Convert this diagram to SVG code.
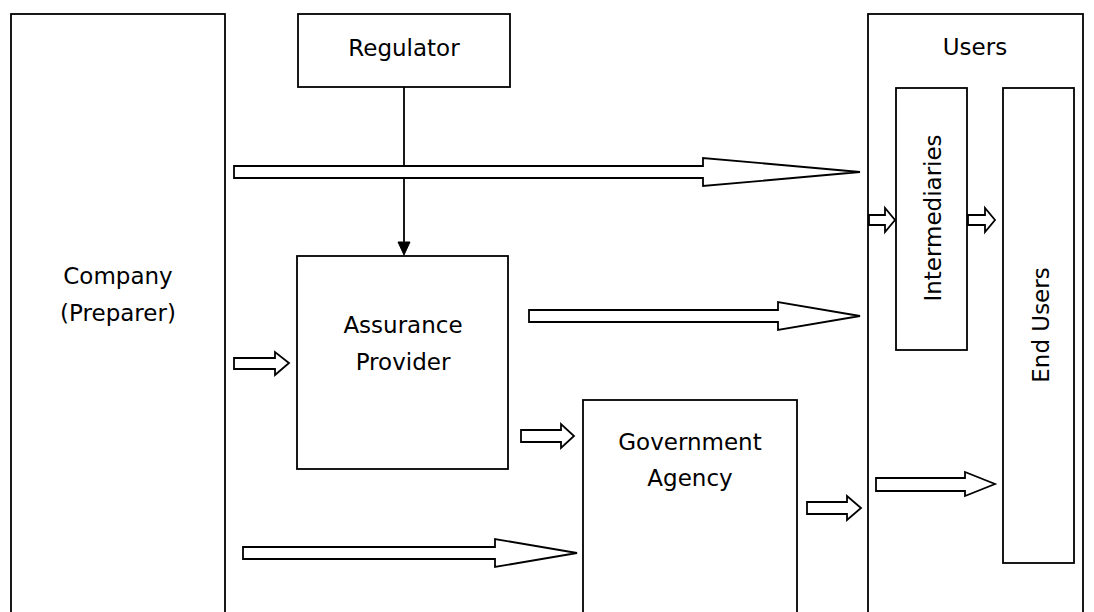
<svg xmlns="http://www.w3.org/2000/svg" width="1094" height="612" viewBox="0 0 1094 612">
<style>
.box{fill:#fff;stroke:#000;stroke-width:1.8}
.ar{fill:#fff;stroke:#000;stroke-width:1.8;stroke-linejoin:miter}
text{font-family:"DejaVu Sans","Verdana",sans-serif;font-size:23px;fill:#000;text-anchor:middle}
</style>
<rect width="1094" height="612" fill="#fff"/>
<g id="company"><rect class="box" x="11" y="14" width="214" height="610"/><text x="118" y="284">Company</text><text x="118" y="321">(Preparer)</text></g>
<g id="regulator"><rect class="box" x="298" y="14" width="212" height="73"/><text x="404" y="56">Regulator</text></g>
<g id="users"><rect class="box" x="868" y="14" width="215" height="610"/><text x="975" y="55">Users</text></g>
<g id="intermediaries"><rect class="box" x="896" y="88" width="71" height="262"/><text transform="translate(941,218) rotate(-90)">Intermediaries</text></g>
<g id="endusers"><rect class="box" x="1003" y="88" width="71" height="475"/><text transform="translate(1049,325) rotate(-90)">End Users</text></g>
<g id="assurance"><rect class="box" x="297" y="256" width="211" height="213"/><text x="403" y="333">Assurance</text><text x="403" y="370">Provider</text></g>
<g id="government"><rect class="box" x="583" y="400" width="214" height="224"/><text x="690" y="450">Government</text><text x="690" y="486">Agency</text></g>
<g id="connectors">
<line x1="404" y1="87" x2="404" y2="242" stroke="#000" stroke-width="1.8"/>
<polygon points="398,242 410,242 404,255" fill="#000" stroke="#000" stroke-width="1"/>
<polygon class="ar" points="234,166 703,166 703,158 860,172 703,186 703,178 234,178"/>
<polygon class="ar" points="529,310 778,310 778,302 860,316 778,330 778,322 529,322"/>
<polygon class="ar" points="243,547 495,547 495,539 577,553 495,567 495,559 243,559"/>
<polygon class="ar" points="234,358 275,358 275,352 289,363 275,375 275,369 234,369"/>
<polygon class="ar" points="521,430 561,430 561,424 574,436 561,448 561,442 521,442"/>
<polygon class="ar" points="807,502 847,502 847,496 861,508 847,520 847,514 807,514"/>
<polygon class="ar" points="869,215 885,215 885,208 895,220 885,232 885,225 869,225"/>
<polygon class="ar" points="968,215 985,215 985,208 995,220 985,232 985,225 968,225"/>
<polygon class="ar" points="876,478 965,478 965,472 995,484 965,496 965,491 876,491"/>
</g>
</svg>
